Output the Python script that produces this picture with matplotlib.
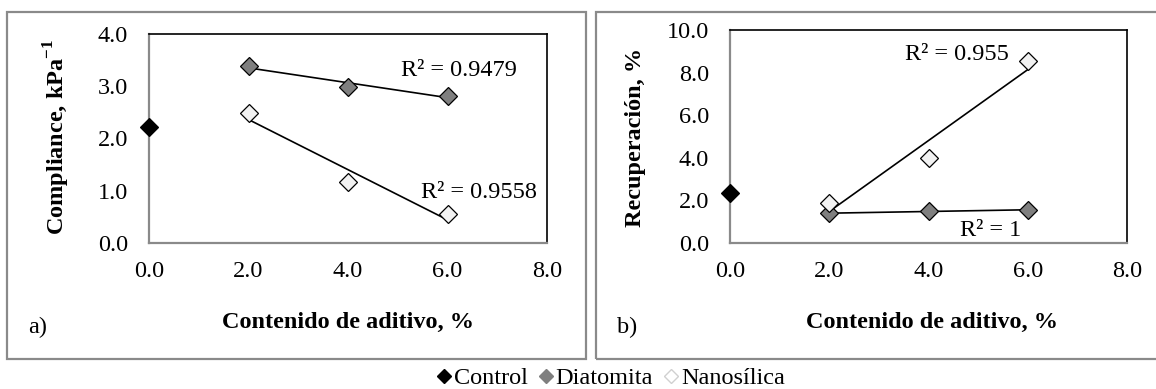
import numpy as np
import matplotlib
matplotlib.use("Agg")
import matplotlib.pyplot as plt
from matplotlib.lines import Line2D
from matplotlib.patches import Rectangle

plt.rcParams['font.family'] = ['Liberation Serif', 'DejaVu Serif']
plt.rcParams['mathtext.fontset'] = 'custom'
plt.rcParams['mathtext.rm'] = 'Liberation Serif'
plt.rcParams['mathtext.bf'] = 'Liberation Serif:bold'

# contenido de aditivo (%)
x_control = [0.0]
x_aditivo = [2.0, 4.0, 6.0]

# a) compliance, kPa^-1
comp_control = [2.22]
comp_diatomita = [3.39, 2.99, 2.82]
comp_nano = [2.48, 1.17, 0.56]

# b) recuperacion, %
rec_control = [2.37]
rec_diatomita = [1.40, 1.48, 1.56]
rec_nano = [1.89, 3.99, 8.55]

r2_a = ["R² = 0.9479", "R² = 0.9558"]
r2_b = ["R² = 0.955", "R² = 1"]
ticks_x = [0, 2, 4, 6, 8]

W, H = 1156, 389
fig = plt.figure(figsize=(W / 100, H / 100), dpi=100)
FS = 17.5

def px(x0, y0, x1, y1):
    # pixel box -> figure fraction [left, bottom, width, height]
    return [x0 / W, 1 - y1 / H, (x1 - x0) / W, (y1 - y0) / H]

# marcos grises de cada panel
for (x0, x1) in [(7, 586), (596, 1170)]:
    fig.patches.append(Rectangle((x0 / W, 1 - 359 / H), (x1 - x0) / W, 347 / H,
                                 transform=fig.transFigure, fill=False,
                                 edgecolor='#8a8a8a', linewidth=1.6))

ax1 = fig.add_axes(px(149, 34, 547, 243))
ax2 = fig.add_axes(px(730, 30, 1127, 243))

mk = dict(marker='D', markersize=8.7, markeredgecolor='black', markeredgewidth=0.9,
          linestyle='none', clip_on=False, zorder=5)

def trend(ax, x, y):
    k, b = np.polyfit(x, y, 1)
    xs = np.array([x[0], x[-1]])
    ax.plot(xs, k * xs + b, color='black', linewidth=1.2, zorder=4)

for ax, ctrl, dia, nano, ymax, yt in [
        (ax1, comp_control, comp_diatomita, comp_nano, 4.0, [0, 1, 2, 3, 4]),
        (ax2, rec_control, rec_diatomita, rec_nano, 10.0, [0, 2, 4, 6, 8, 10])]:
    trend(ax, x_aditivo, dia)
    trend(ax, x_aditivo, nano)
    ax.plot(x_control, ctrl, markerfacecolor='black', **mk)
    ax.plot(x_aditivo, dia, markerfacecolor='#7f7f7f', **mk)
    ax.plot(x_aditivo, nano, markerfacecolor='#f2f2f2', **mk)
    ax.set_xlim(0, 8)
    ax.set_ylim(0, ymax)
    ax.set_xticks(ticks_x)
    ax.set_xticklabels([f"{v:.1f}" for v in ticks_x])
    ax.set_yticks(yt)
    ax.set_yticklabels([f"{v:.1f}" for v in yt])
    ax.tick_params(length=0, labelsize=FS)
    ax.tick_params(axis='x', pad=13)
    ax.tick_params(axis='y', pad=15)
    for s in ['top', 'right']:
        ax.spines[s].set_color('black')
        ax.spines[s].set_linewidth(1.2)
    for s in ['left', 'bottom']:
        ax.spines[s].set_color('#8a8a8a')
        ax.spines[s].set_linewidth(1.6)

ax1.text(5.07, 3.31, r2_a[0], fontsize=FS, va='center')
ax1.text(5.47, 0.96, r2_a[1], fontsize=FS, va='center')
ax2.text(3.53, 8.83, r2_b[0], fontsize=FS, va='center')
ax2.text(4.64, 0.61, r2_b[1], fontsize=FS, va='center')

# etiquetas de ejes y de panel
fig.text(348 / W, 1 - 322 / H, "Contenido de aditivo, %", fontsize=FS,
         fontweight='bold', ha='center', va='center')
fig.text(932 / W, 1 - 322 / H, "Contenido de aditivo, %", fontsize=FS,
         fontweight='bold', ha='center', va='center')
fig.text(57 / W, 1 - 137 / H, r"Compliance, kPa$^{\mathbf{-1}}$", fontsize=FS,
         fontweight='bold', rotation=90, ha='center', va='center')
fig.text(635 / W, 1 - 137 / H, "Recuperación, %", fontsize=FS,
         fontweight='bold', rotation=90, ha='center', va='center')
fig.text(28 / W, 1 - 327 / H, "a)", fontsize=FS, va='center')
fig.text(617 / W, 1 - 327 / H, "b)", fontsize=FS, va='center')

lg = dict(marker='D', linestyle='none', markersize=7)
handles = [
    Line2D([], [], markerfacecolor='black', markeredgecolor='black', **lg),
    Line2D([], [], markerfacecolor='#7f7f7f', markeredgecolor='#7f7f7f', **lg),
    Line2D([], [], markerfacecolor='white', markeredgecolor='#d0d0d0', **lg),
]
fig.legend(handles, ["Control", "Diatomita", "Nanosílica"], loc='center',
           bbox_to_anchor=(610 / W, 1 - 378 / H), ncol=3, frameon=False,
           fontsize=FS, handlelength=0.7, handletextpad=0.05, columnspacing=0.4,
           borderpad=0, borderaxespad=0)

fig.savefig("out.png", dpi=100)
